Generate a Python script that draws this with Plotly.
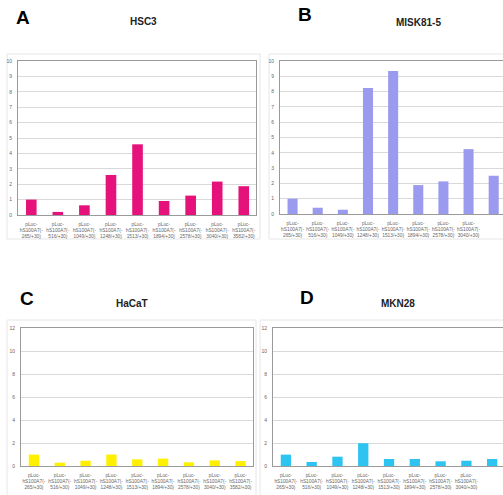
import plotly.graph_objects as go

categories = [
    "pLuc-<br>hS100A7(-<br>265/+30)",
    "pLuc-<br>hS100A7(-<br>516/+30)",
    "pLuc-<br>hS100A7(-<br>1049/+30)",
    "pLuc-<br>hS100A7(-<br>1248/+30)",
    "pLuc-<br>hS100A7(-<br>1513/+30)",
    "pLuc-<br>hS100A7(-<br>1894/+30)",
    "pLuc-<br>hS100A7(-<br>2578/+30)",
    "pLuc-<br>hS100A7(-<br>3040/+30)",
    "pLuc-<br>hS100A7(-<br>3582/+30)",
]
hsc3 = [1.0, 0.2, 0.63, 2.6, 4.59, 0.91, 1.26, 2.17, 1.87]
misk81_5 = [1.0, 0.41, 0.28, 8.24, 9.35, 1.89, 2.13, 4.24, 2.5]
hacat = [0.99, 0.29, 0.46, 1.0, 0.58, 0.64, 0.32, 0.49, 0.43]
mkn28 = [0.99, 0.35, 0.81, 1.98, 0.61, 0.61, 0.41, 0.46, 0.61]

W, H = 503, 495


def px(x):
    return x / W


def py(y):
    return (H - y) / H


panels = [
    dict(letter="A", title="HSC3", vals=hsc3, color="#E5127C",
         box=(18, 61, 256, 215), frame=(7, 54, 260, 239), ymax=10, dtick=1, xr=8.46,
         lpos=(23, 17), tpos=(143, 22)),
    dict(letter="B", title="MISK81-5", vals=misk81_5, color="#9A9AEE",
         box=(280, 61, 503, 214), frame=(269, 54, 510, 239), ymax=10, dtick=1, xr=8.37,
         lpos=(305, 15), tpos=(418, 23)),
    dict(letter="C", title="HaCaT", vals=hacat, color="#FFF000",
         box=(21, 328, 253, 466), frame=(7, 320, 256, 510), ymax=12, dtick=2, xr=8.48,
         lpos=(27, 298), tpos=(132, 303)),
    dict(letter="D", title="MKN28", vals=mkn28, color="#2EC4F2",
         box=(273, 328, 503, 466), frame=(260, 320, 510, 510), ymax=12, dtick=2, xr=8.42,
         lpos=(307, 297), tpos=(398, 303)),
]

fig = go.Figure()
shapes = []
annotations = []
layout = {}

for i, p in enumerate(panels, start=1):
    xa = "x" if i == 1 else f"x{i}"
    ya = "y" if i == 1 else f"y{i}"
    fig.add_trace(go.Bar(
        x=list(range(len(categories))), y=p["vals"], marker=dict(color=p["color"], line=dict(width=0)),
        width=0.4, xaxis=xa, yaxis=ya, showlegend=False, hoverinfo="y",
    ))
    l, t, r, b = p["box"]
    xkey = "xaxis" if i == 1 else f"xaxis{i}"
    ykey = "yaxis" if i == 1 else f"yaxis{i}"
    layout[xkey] = dict(
        domain=[px(l), min(px(r), 1.0)], anchor=ya, range=[-0.5, p["xr"]],
        tickmode="array", tickvals=list(range(len(categories))), ticktext=categories,
        tickangle=0, tickfont=dict(size=4.8, color="#666", family="Arial"),
        showgrid=False, showline=True, linecolor="#9a9a9a", linewidth=1, mirror=True,
        ticks="", zeroline=False, fixedrange=True, automargin=False, ticklabelstandoff=4,
    )
    layout[ykey] = dict(
        domain=[py(b), py(t)], anchor=xa, range=[0, p["ymax"]], dtick=p["dtick"],
        tickfont=dict(size=5, color="#666", family="Arial"),
        showgrid=True, gridcolor="#d9d9d9", gridwidth=1,
        showline=True, linecolor="#9a9a9a", linewidth=1, mirror=True,
        ticks="", zeroline=False, fixedrange=True, ticklabelstandoff=4, automargin=False,
    )
    fl, ft, fr, fb = p["frame"]
    shapes.append(dict(type="rect", xref="paper", yref="paper",
                       x0=px(fl), x1=px(fr), y0=py(fb), y1=py(ft),
                       line=dict(color="#e6e6e6", width=1), fillcolor="rgba(0,0,0,0)", layer="below"))
    annotations.append(dict(text=f"<b>{p['letter']}</b>", xref="paper", yref="paper",
                            x=px(p["lpos"][0]), y=py(p["lpos"][1]), xanchor="center", yanchor="middle",
                            showarrow=False, font=dict(size=19, color="black", family="Arial")))
    annotations.append(dict(text=f"<b>{p['title']}</b>", xref="paper", yref="paper",
                            x=px(p["tpos"][0]), y=py(p["tpos"][1]), xanchor="center", yanchor="middle",
                            showarrow=False, font=dict(size=10, color="#222", family="Arial")))

fig.update_layout(
    width=W, height=H, margin=dict(l=0, r=0, t=0, b=0, autoexpand=False),
    paper_bgcolor="white", plot_bgcolor="white",
    shapes=shapes, annotations=annotations, bargap=0.6,
    **layout,
)

fig.write_html("out.html", config={"displayModeBar": False},
               post_script="document.body.style.margin='0';document.body.style.overflow='hidden';")
